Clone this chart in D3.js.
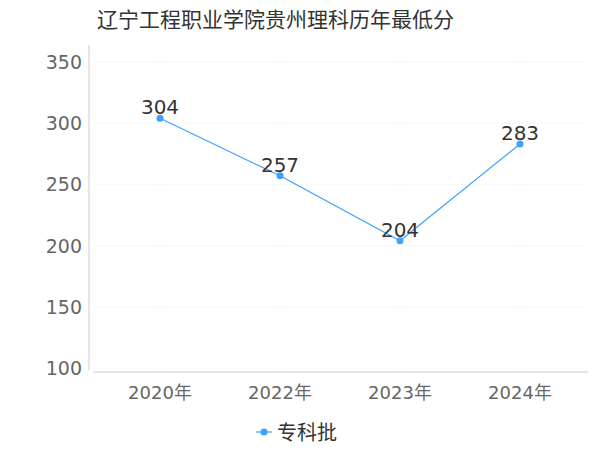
<!DOCTYPE html>
<html><head><meta charset="utf-8">
<script src="https://cdn.jsdelivr.net/npm/d3@7"></script>
<style>body{margin:0;background:#fff}</style></head>
<body><svg id="c" width="600" height="450"></svg>
<script>
const categories = ["2020年","2022年","2023年","2024年"];
const values = [304,257,204,283];
const yTicks = [100,150,200,250,300,350];
const seriesName = "专科批";
const title = "辽宁工程职业学院贵州理科历年最低分";
const font = "'DejaVu Sans','Noto Sans CJK SC',sans-serif";
const svg = d3.select("#c");
const x = d3.scaleBand().domain(categories).range([100,580]);
const y = d3.scaleLinear().domain([100,350]).range([368,62]);
svg.append("text").attr("x",97).attr("y",27).attr("font-family",font).attr("font-size",21).attr("fill","#333").text(title);
svg.append("g").selectAll("line").data(yTicks).join("line")
 .attr("x1",93).attr("x2",588).attr("y1",d=>y(d)).attr("y2",d=>y(d)).attr("stroke","#f0f0f0").attr("stroke-dasharray","2,2");
svg.append("g").selectAll("line").data(categories).join("line")
 .attr("x1",d=>x(d)+x.bandwidth()/2).attr("x2",d=>x(d)+x.bandwidth()/2).attr("y1",45).attr("y2",370).attr("stroke","#f4f4f4").attr("stroke-dasharray","2,2");
svg.append("line").attr("x1",89).attr("x2",89).attr("y1",45).attr("y2",370).attr("stroke","#ccc");
svg.append("line").attr("x1",93).attr("x2",588).attr("y1",372).attr("y2",372).attr("stroke","#ccc");
svg.append("g").selectAll("text").data(yTicks).join("text")
 .attr("x",82).attr("y",d=>y(d)+7).attr("text-anchor","end").attr("font-family",font).attr("font-size",19).attr("fill","#666").text(d=>d);
svg.append("g").selectAll("text").data(categories).join("text")
 .attr("x",d=>x(d)+x.bandwidth()/2).attr("y",399).attr("text-anchor","middle").attr("font-family",font).attr("font-size",18).attr("fill","#666").text(d=>d);
const cx = (d,i)=>x(categories[i])+x.bandwidth()/2;
svg.append("path").datum(values).attr("fill","none").attr("stroke","#3fa0ff").attr("stroke-width",1.2)
 .attr("d",d3.line().x((d,i)=>cx(d,i)).y(d=>y(d)));
svg.append("g").selectAll("circle").data(values).join("circle")
 .attr("cx",cx).attr("cy",d=>y(d)).attr("r",3.5).attr("fill","#3fa0ff");
svg.append("g").selectAll("text").data(values).join("text")
 .attr("x",cx).attr("y",d=>y(d)-4).attr("text-anchor","middle").attr("font-family",font).attr("font-size",20).attr("fill","#333").text(d=>d);
svg.append("line").attr("x1",256).attr("x2",272).attr("y1",432).attr("y2",432).attr("stroke","#3fa0ff").attr("stroke-width",1.2);
svg.append("circle").attr("cx",264).attr("cy",432).attr("r",3.5).attr("fill","#3fa0ff");
svg.append("text").attr("x",277).attr("y",440).attr("font-family",font).attr("font-size",20).attr("fill","#333").text(seriesName);
</script></body></html>
